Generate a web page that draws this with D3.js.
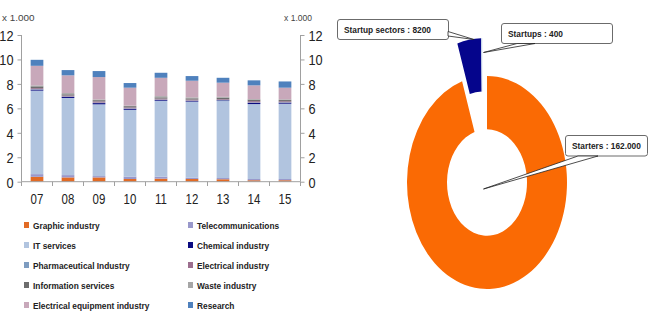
<!DOCTYPE html>
<html><head><meta charset="utf-8">
<script src="https://cdn.jsdelivr.net/npm/d3@7"></script>
<style>
html,body{margin:0;padding:0;background:#fff;}
svg{display:block;}
text{font-family:'Liberation Sans',Arial,sans-serif;}
</style></head>
<body><svg id="c" width="658" height="325"></svg>
<script>
// ---------- DATA ----------
const years = ["07","08","09","10","11","12","13","14","15"];
const seriesNames = ["Graphic industry","Telecommunications","IT services","Chemical industry","Pharmaceutical Industry","Electrical industry","Information services","Waste industry","Electrical equipment industry","Research"];
const graphic     = [0.40,0.35,0.35,0.22,0.25,0.22,0.20,0.12,0.12];
const telecom     = [0.22,0.19,0.11,0.19,0.16,0.11,0.10,0.10,0.10];
const itServices  = [6.83,6.31,5.87,5.47,6.21,6.22,6.30,6.13,6.16];
const chemical    = [0.08,0.08,0.10,0.08,0.06,0.05,0.05,0.10,0.08];
const pharma      = [0.04,0.04,0.04,0.04,0.04,0.04,0.04,0.04,0.04];
const electrical  = [0.08,0.08,0.10,0.08,0.08,0.08,0.06,0.10,0.08];
const information = [0.15,0.10,0.10,0.10,0.10,0.10,0.12,0.12,0.10];
const waste       = [0.08,0.10,0.06,0.04,0.10,0.08,0.07,0.05,0.06];
const elecEquip   = [1.60,1.45,1.83,1.47,1.50,1.36,1.16,1.12,0.95];
const research    = [0.49,0.43,0.49,0.38,0.41,0.38,0.40,0.41,0.51];
const yTicks = [0,2,4,6,8,10,12];
const legendOrder = ["Graphic industry","IT services","Pharmaceutical Industry","Information services","Electrical equipment industry","Telecommunications","Chemical industry","Electrical industry","Waste industry","Research"];

const pieLabels = ["Starters","Startup sectors","Startups"];
const pieValues = [162000, 8200, 400];
const pieLabelText = ["Starters : 162.000","Startup sectors : 8200","Startups : 400"];

// ---------- STYLE ----------
const colors = {
  "Graphic industry":"#E26B25","Telecommunications":"#9998CB","IT services":"#B1C4DF",
  "Chemical industry":"#0A0A80","Pharmaceutical Industry":"#7E9CC0","Electrical industry":"#9C6E8E",
  "Information services":"#6D6D6D","Waste industry":"#A6A6A6","Electrical equipment industry":"#C8A8BA",
  "Research":"#4F81BD"
};
const pieColors = ["#FA6A04","#05058C","#C5D5EA"];
const K = 0.85; // horizontal condensing of text

const svg = d3.select("#c");
function ctext(parent, x, y, str, size, opts={}){
  const t = parent.append("text")
    .attr("transform",`translate(${x},${y}) scale(${opts.k||K},1)`)
    .attr("font-size",size).attr("fill",opts.fill||"#222")
    .attr("text-anchor",opts.anchor||"start")
    .text(str);
  if(opts.bold) t.attr("font-weight","bold");
  if(opts.dy) t.attr("dy",opts.dy);
  return t;
}

const seriesArrays = [graphic,telecom,itServices,chemical,pharma,electrical,information,waste,elecEquip,research];
const rows = years.map((y,i)=>{const o={year:y}; seriesNames.forEach((s,k)=>o[s]=seriesArrays[k][i]); return o;});
const stacked = d3.stack().keys(seriesNames)(rows);

const x = d3.scaleBand().domain(years).range([21.5,300.5]).padding(0);
const y = d3.scaleLinear().domain([0,12]).range([181.7,35]);
const bw = x.bandwidth()*0.41;

const g = svg.append("g");
g.selectAll("g.s").data(stacked).join("g").attr("fill",d=>colors[d.key])
 .selectAll("rect").data(d=>d).join("rect")
 .attr("x",d=>x(d.data.year)+x.bandwidth()/2-bw/2)
 .attr("width",bw)
 .attr("y",d=>y(d[1]))
 .attr("height",d=>Math.max(0,y(d[0])-y(d[1])));

// axes
const axisColor="#A0A0A0";
const left = svg.append("g").attr("transform","translate(21.5,0)")
  .call(d3.axisLeft(y).tickValues(yTicks).tickSize(4).tickFormat(d3.format("d")));
const right = svg.append("g").attr("transform","translate(300.5,0)")
  .call(d3.axisRight(y).tickValues(yTicks).tickSize(4).tickFormat(d3.format("d")));
[left,right].forEach(a=>{
  a.select(".domain").attr("stroke",axisColor).attr("d","M0,181.7V35");
  a.selectAll(".tick line").attr("stroke",axisColor);
  a.selectAll("text").attr("font-size",15).attr("fill","#222").attr("dy","0.36em");
});
left.selectAll("text").attr("x",null).attr("transform",`translate(-8,0) scale(${K},1)`);
right.selectAll("text").attr("x",null).attr("transform",`translate(8,0) scale(${K},1)`);

const xa = svg.append("g").attr("transform","translate(0,181.7)")
  .call(d3.axisBottom(x).tickSize(0));
xa.select(".domain").attr("stroke",axisColor).attr("d","M21.5,0H300.5");
xa.selectAll("text").attr("font-size",14).attr("fill","#222").attr("y",null).attr("dy",null)
  .attr("transform",`translate(0,22) scale(0.82,1)`);
// category boundary ticks
svg.append("g").selectAll("line").data(d3.range(years.length+1)).join("line")
  .attr("x1",i=>x.range()[0]+i*x.step()).attr("x2",i=>x.range()[0]+i*x.step())
  .attr("y1",181.7).attr("y2",186).attr("stroke",axisColor);

ctext(svg,2,21,"x 1.000",9,{fill:"#444",k:1.1});
ctext(svg,284,21,"x 1.000",9,{fill:"#444",k:0.95});

// legend
const lg = svg.append("g");
legendOrder.forEach((name,i)=>{
  const col = i<5?0:1, row=i%5;
  const lx = col===0?24:188, ly = 225+row*20;
  lg.append("rect").attr("x",lx).attr("y",ly-3).attr("width",5).attr("height",6).attr("fill",colors[name]);
  ctext(lg,lx+9,ly+3.5,name,9.8,{bold:true});
});

// ---------- DONUT ----------
const cx=487, cy=182.5, sx=0.8, sy=1.065;
const pie = d3.pie().sort(null).value(d=>d)(pieValues);
const arc = d3.arc().innerRadius(50).outerRadius(100);
const navy = pie[1];
const bis = (navy.startAngle+navy.endAngle)/2, D=36;
const off = [Math.sin(bis)*D, -Math.cos(bis)*D];
const pg = svg.append("g").attr("transform",`translate(${cx},${cy}) scale(${sx},${sy})`);
pg.selectAll("path").data(pie).join("path")
  .attr("d",arc).attr("fill",(d,i)=>pieColors[i])
  .attr("transform",(d,i)=>i===0?null:`translate(${off[0]},${off[1]})`);

// callouts (annotation layout)
const callouts = [
  {t:pieLabelText[1], box:[337.5,19.5,111,20], tail:[[448,31.5],[448,36],[474,39.5]]},
  {t:pieLabelText[2], box:[501.5,23.5,111,20], tail:[[517,43.5],[535,43.5],[483.5,52.5]]},
  {t:pieLabelText[0], box:[565.5,135.5,82,20.5], tail:[[578,156],[598,156],[483.5,189]]}
];
callouts.forEach(c=>{
  const [bx,by,w,h]=c.box;
  svg.append("rect").attr("x",bx).attr("y",by).attr("width",w).attr("height",h).attr("rx",2.5)
    .attr("fill","#fff").attr("stroke","#6b6b6b").attr("stroke-width",1);
  svg.append("path").attr("d","M"+c.tail.map(p=>p.join(",")).join("L")+"Z")
    .attr("fill","#fff").attr("stroke","#222").attr("stroke-width",0.8);
  ctext(svg,bx+6.5,by+13.5,c.t,9.8,{bold:true});
});
</script></body></html>
